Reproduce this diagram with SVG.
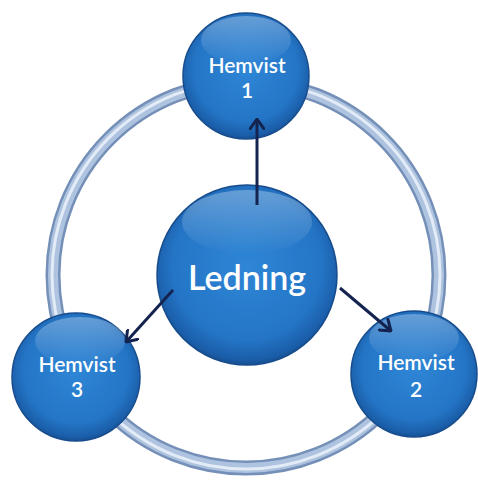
<svg xmlns="http://www.w3.org/2000/svg" width="478" height="480" viewBox="0 0 478 480">
<defs>
<radialGradient id="ball" cx="50%" cy="45%" r="55%">
<stop offset="0" stop-color="#2f86d6"/>
<stop offset="0.75" stop-color="#2475c6"/>
<stop offset="0.95" stop-color="#1a5da8"/>
<stop offset="1" stop-color="#174f90"/>
</radialGradient>
<linearGradient id="shine" x1="0" y1="0" x2="0" y2="1">
<stop offset="0" stop-color="#ffffff" stop-opacity="0.3"/>
<stop offset="1" stop-color="#ffffff" stop-opacity="0"/>
</linearGradient>
<marker id="head" viewBox="0 0 12 16" markerWidth="12" markerHeight="16" refX="11" refY="8" orient="auto" markerUnits="userSpaceOnUse">
<path d="M1,1 L11,8 L1,15" fill="none" stroke="#14234f" stroke-width="3" stroke-linecap="round" stroke-linejoin="round"/>
</marker>
<style>
.ball{fill:url(#ball);stroke:#174c8c;stroke-width:1.5}
.shine{fill:url(#shine)}
.t{font-family:Lato,"Open Sans","Liberation Sans",sans-serif;fill:#ffffff;text-anchor:middle;font-weight:600}
.s{font-size:21px}
.b{font-size:34px}
.arrow{stroke:#14234f;stroke-width:3;fill:none;marker-end:url(#head)}
</style>
</defs>
<rect width="478" height="480" fill="#ffffff"/>
<g id="ring">
<circle cx="246" cy="275" r="193" fill="none" stroke="#7590b8" stroke-width="15"/>
<circle cx="246" cy="275" r="193" fill="none" stroke="#aec3df" stroke-width="10"/>
<circle cx="246" cy="275" r="194" fill="none" stroke="#e2ebf6" stroke-width="3"/>
</g>
<g id="node-hemvist1">
<circle class="ball" cx="246" cy="76" r="63"/>
<ellipse class="shine" cx="246" cy="40" rx="45" ry="24"/>
<text class="t s" x="247" y="73">Hemvist</text>
<text class="t s" x="247" y="98">1</text>
</g>
<g id="node-ledning">
<circle class="ball" cx="247" cy="275" r="90"/>
<ellipse class="shine" cx="247" cy="222" rx="65" ry="32"/>
<text class="t b" x="247" y="290">Ledning</text>
</g>
<g id="node-hemvist3">
<circle class="ball" cx="76" cy="377" r="64"/>
<ellipse class="shine" cx="80" cy="341" rx="45" ry="24"/>
<text class="t s" x="77" y="372">Hemvist</text>
<text class="t s" x="77" y="397">3</text>
</g>
<g id="node-hemvist2">
<circle class="ball" cx="414" cy="374" r="63"/>
<ellipse class="shine" cx="414" cy="338" rx="45" ry="24"/>
<text class="t s" x="416" y="370">Hemvist</text>
<text class="t s" x="416" y="397">2</text>
</g>
<g id="connectors">
<line class="arrow" x1="257" y1="205" x2="257" y2="119"/>
<line class="arrow" x1="173" y1="290" x2="126" y2="342"/>
<line class="arrow" x1="340" y1="288" x2="391" y2="331"/>
</g>
</svg>
